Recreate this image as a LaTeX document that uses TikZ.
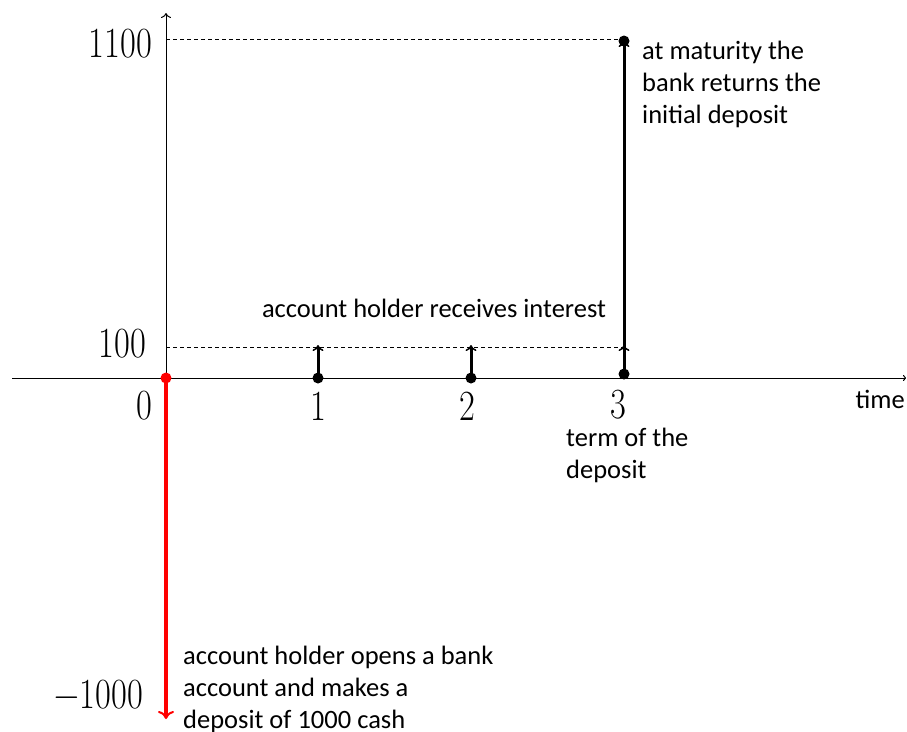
\documentclass[tikz,border=0pt]{standalone}
\usepackage{fontspec}
\newfontfamily\lab{Carlito}
\usetikzlibrary{arrows.meta}
\newcommand{\numtxt}[1]{\scalebox{0.8}[1]{#1}}
\tikzset{
  num/.style={font=\fontsize{43}{43}\selectfont, inner sep=0pt},
  lbl/.style={font=\lab\fontsize{26.5}{32}\selectfont, inner sep=0pt, align=left},
  axis/.style={line width=1pt},
  guide/.style={line width=0.7pt, dash pattern=on 4pt off 3pt},
  flow/.style={line width=3pt, -{To[length=6pt,width=11pt,line width=1.5pt]}},
  dot/.style={circle, fill, inner sep=0pt, minimum size=11pt}
}
\begin{document}
\begin{tikzpicture}[x=1pt,y=-1pt]
\useasboundingbox (0,0) rectangle (907,731);
% axes
\coordinate (o) at (166,378);
\coordinate (xl) at (12,378);
\coordinate (xr) at (906,378);
\coordinate (yt) at (166,13);
\draw[axis,-{To[length=3pt,width=6pt]}] (xl) -- (xr);
\draw[axis,-{To[length=5pt,width=10pt]}] (o) -- (yt);
% guides
\coordinate (g1a) at (166,39);
\coordinate (g1b) at (624,39);
\coordinate (g2a) at (166,347);
\coordinate (g2b) at (624,347);
\draw[guide] (g1a) -- (g1b);
\draw[guide] (g2a) -- (g2b);
% points
\node[dot] (p1) at (318,378) {};
\node[dot] (p2) at (471,378) {};
\node[dot] (p3) at (624,374) {};
\node[dot] (p3t) at (624,41) {};
\coordinate (t1) at (318,345);
\coordinate (t2) at (471,345);
\coordinate (t3) at (624,345);
\draw[flow] (p1.center) -- (t1);
\draw[flow] (p2.center) -- (t2);
\draw[flow] (p3.center) -- (t3);
\draw[flow] (p3.center) -- (p3t.center);
% red
\node[dot, fill=red] (p0) at (166,378) {};
\coordinate (rb) at (166,719);
\draw[red, line width=3.5pt, -{To[length=8pt,width=16pt,line width=2pt]}] (p0.center) -- (rb);
% numbers
\node[num, anchor=east] (n1100) at (152,44) {\numtxt{1100}};
\node[num, anchor=east] (n100) at (146,344) {\numtxt{100}};
\node[num] (n0) at (144,406) {\numtxt{0}};
\node[num] (n1) at (318,406) {\numtxt{1}};
\node[num] (n2) at (467,406) {\numtxt{2}};
\node[num] (n3) at (618,405) {\numtxt{3}};
\node[num, anchor=east] (nm) at (143,695) {\numtxt{\char"2212 1000}};
% labels
\node[lbl, anchor=north west] (lmat) at (642,41) {at maturity the\\bank returns the\\initial deposit};
\node[lbl] (lint) at (434,308) {account holder receives interest};
\node[lbl, anchor=east] (ltime) at (905,399) {time};
\node[lbl, anchor=north west] (lterm) at (566,428) {term of the\\deposit};
\node[lbl, anchor=north west] (lopen) at (183,646) {account holder opens a bank\\account and makes a\\deposit of 1000 cash};
\end{tikzpicture}
\end{document}
